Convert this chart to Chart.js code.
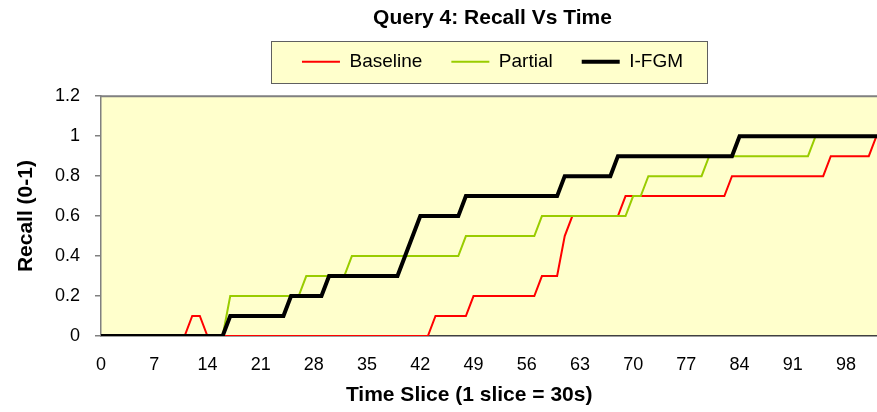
<!DOCTYPE html>
<html>
<head>
<meta charset="utf-8">
<title>Query 4: Recall Vs Time</title>
<script src="https://cdn.jsdelivr.net/npm/chart.js@4.4.0/dist/chart.umd.min.js"></script>
<style>
  html, body { margin: 0; padding: 0; overflow: hidden; background: #fff; }
  /* slightly wider than the window: the last slice sits just past the crop, as in the picture */
  #wrap { width: 884px; height: 412px; }
</style>
</head>
<body>
<div id="wrap"><canvas id="chart"></canvas></div>
<script>
'use strict';

// time slices 0..103
const timeSlices = Array.from({ length: 104 }, (_, i) => i);

const baseline = [
  0, 0, 0, 0, 0, 0, 0, 0, 0, 0,
  0, 0, 0.1, 0.1, 0, 0, 0, 0, 0, 0,
  0, 0, 0, 0, 0, 0, 0, 0, 0, 0,
  0, 0, 0, 0, 0, 0, 0, 0, 0, 0,
  0, 0, 0, 0, 0.1, 0.1, 0.1, 0.1, 0.1, 0.2,
  0.2, 0.2, 0.2, 0.2, 0.2, 0.2, 0.2, 0.2, 0.3, 0.3,
  0.3, 0.5, 0.6, 0.6, 0.6, 0.6, 0.6, 0.6, 0.6, 0.7,
  0.7, 0.7, 0.7, 0.7, 0.7, 0.7, 0.7, 0.7, 0.7, 0.7,
  0.7, 0.7, 0.7, 0.8, 0.8, 0.8, 0.8, 0.8, 0.8, 0.8,
  0.8, 0.8, 0.8, 0.8, 0.8, 0.8, 0.9, 0.9, 0.9, 0.9,
  0.9, 0.9, 1, 1
];

const partial = [
  0, 0, 0, 0, 0, 0, 0, 0, 0, 0,
  0, 0, 0, 0, 0, 0, 0, 0.2, 0.2, 0.2,
  0.2, 0.2, 0.2, 0.2, 0.2, 0.2, 0.2, 0.3, 0.3, 0.3,
  0.3, 0.3, 0.3, 0.4, 0.4, 0.4, 0.4, 0.4, 0.4, 0.4,
  0.4, 0.4, 0.4, 0.4, 0.4, 0.4, 0.4, 0.4, 0.5, 0.5,
  0.5, 0.5, 0.5, 0.5, 0.5, 0.5, 0.5, 0.5, 0.6, 0.6,
  0.6, 0.6, 0.6, 0.6, 0.6, 0.6, 0.6, 0.6, 0.6, 0.6,
  0.7, 0.7, 0.8, 0.8, 0.8, 0.8, 0.8, 0.8, 0.8, 0.8,
  0.9, 0.9, 0.9, 0.9, 0.9, 0.9, 0.9, 0.9, 0.9, 0.9,
  0.9, 0.9, 0.9, 0.9, 1, 1, 1, 1, 1, 1,
  1, 1, 1, 1
];

const ifgm = [
  0, 0, 0, 0, 0, 0, 0, 0, 0, 0,
  0, 0, 0, 0, 0, 0, 0, 0.1, 0.1, 0.1,
  0.1, 0.1, 0.1, 0.1, 0.1, 0.2, 0.2, 0.2, 0.2, 0.2,
  0.3, 0.3, 0.3, 0.3, 0.3, 0.3, 0.3, 0.3, 0.3, 0.3,
  0.4, 0.5, 0.6, 0.6, 0.6, 0.6, 0.6, 0.6, 0.7, 0.7,
  0.7, 0.7, 0.7, 0.7, 0.7, 0.7, 0.7, 0.7, 0.7, 0.7,
  0.7, 0.8, 0.8, 0.8, 0.8, 0.8, 0.8, 0.8, 0.9, 0.9,
  0.9, 0.9, 0.9, 0.9, 0.9, 0.9, 0.9, 0.9, 0.9, 0.9,
  0.9, 0.9, 0.9, 0.9, 1, 1, 1, 1, 1, 1,
  1, 1, 1, 1, 1, 1, 1, 1, 1, 1,
  1, 1, 1, 1
];

const xTickValues = [0, 7, 14, 21, 28, 35, 42, 49, 56, 63, 70, 77, 84, 91, 98];
const yTickValues = [0, 0.2, 0.4, 0.6, 0.8, 1, 1.2];

const FONT = "'Liberation Sans', Arial, sans-serif";
const PLOT_BG = '#FFFFCC';

function toPoints(values) {
  return timeSlices.map((t, i) => ({ x: t, y: values[i] }));
}

// yellow plot area, boxed legend, grey frame like the Excel original
const plotFrame = {
  id: 'plotFrame',
  beforeDraw(chart) {
    const { ctx, chartArea: a, legend } = chart;
    ctx.save();
    ctx.fillStyle = PLOT_BG;
    ctx.fillRect(a.left, a.top, a.right - a.left, a.bottom - a.top);

    const boxes = legend.legendHitBoxes || [];
    if (boxes.length) {
      const left = Math.min(...boxes.map(b => b.left)) - 31;
      const right = Math.max(...boxes.map(b => b.left + b.width)) + 24;
      const mid = boxes[0].top + boxes[0].height / 2;
      const top = Math.round(mid - 21) + 0.5;
      const bottom = Math.round(mid + 21) + 0.5;
      ctx.fillStyle = PLOT_BG;
      ctx.fillRect(left, top, right - left, bottom - top);
      ctx.strokeStyle = '#606060';
      ctx.lineWidth = 1;
      ctx.strokeRect(Math.round(left) + 0.5, top, Math.round(right - left), bottom - top);
    }
    ctx.restore();
  },
  beforeDatasetsDraw(chart) {
    const { ctx, chartArea: a } = chart;
    ctx.save();
    ctx.strokeStyle = '#808080';
    ctx.lineWidth = 2;
    ctx.beginPath();
    ctx.moveTo(a.left, a.top);
    ctx.lineTo(a.right, a.top);
    ctx.lineTo(a.right, a.bottom);
    ctx.stroke();
    ctx.restore();
  }
};

let canvasElem = document.getElementById('chart');

let data = {
  datasets: [
    { label: 'Baseline', data: toPoints(baseline), borderColor: '#FF0000', backgroundColor: '#FF0000', borderWidth: 2, order: 3 },
    { label: 'Partial', data: toPoints(partial), borderColor: '#99CC00', backgroundColor: '#99CC00', borderWidth: 2, order: 2 },
    { label: 'I-FGM', data: toPoints(ifgm), borderColor: '#000000', backgroundColor: '#000000', borderWidth: 4, order: 1 }
  ]
};

let options = {
  responsive: true,
  maintainAspectRatio: false,
  animation: false,
  devicePixelRatio: 1,
  layout: { padding: 0 },
  elements: {
    point: { radius: 0, hoverRadius: 0 },
    line: { tension: 0, fill: false }
  },
  plugins: {
    tooltip: { enabled: false },
    title: {
      display: true,
      text: 'Query 4: Recall Vs Time',
      fullSize: false,
      color: '#000',
      font: { family: FONT, size: 21, weight: 'bold', lineHeight: 1.2 },
      padding: { top: 6, bottom: -8 }
    },
    legend: {
      position: 'top',
      fullSize: false,
      labels: {
        usePointStyle: true,
        pointStyle: 'line',
        pointStyleWidth: 38,
        padding: 29,
        color: '#000',
        font: { family: FONT, size: 19 },
        sort: (a, b) => a.datasetIndex - b.datasetIndex
      }
    },
    // empty spacer between legend and plot
    subtitle: {
      display: true,
      text: '',
      weight: 500,
      fullSize: false,
      font: { size: 15, lineHeight: 1 },
      padding: 0
    }
  },
  scales: {
    x: {
      type: 'linear',
      min: 0,
      max: 103,
      afterBuildTicks: scale => { scale.ticks = xTickValues.map(v => ({ value: v })); },
      afterFit: scale => { scale.height = 76; },
      ticks: {
        autoSkip: false,
        maxRotation: 0,
        minRotation: 0,
        padding: 10,
        color: '#000',
        font: { family: FONT, size: 18 },
        callback: v => String(v)
      },
      grid: { display: false },
      border: { display: true, color: '#404040', width: 1.5 },
      title: {
        display: true,
        // trailing spaces pull the centred title left, as in the original
        text: 'Time Slice (1 slice = 30s)' + '\u00A0'.repeat(8),
        color: '#000',
        font: { family: FONT, size: 21, weight: 'bold', lineHeight: 1.2 },
        padding: { top: 0, bottom: 4 }
      }
    },
    y: {
      min: 0,
      max: 1.2,
      afterBuildTicks: scale => { scale.ticks = yTickValues.map(v => ({ value: v })); },
      afterFit: scale => { scale.width = 101; },
      ticks: {
        padding: 15,
        color: '#000',
        font: { family: FONT, size: 18 },
        callback: v => String(Math.round(v * 10) / 10)
      },
      grid: { drawOnChartArea: false, drawTicks: true, tickLength: 6, color: '#808080', lineWidth: 1.5 },
      border: { display: true, color: '#808080', width: 1.5 },
      title: {
        display: true,
        text: 'Recall (0-1)',
        color: '#000',
        font: { family: FONT, size: 21, weight: 'bold', lineHeight: 1.2 },
        padding: { top: 14, bottom: 0 }
      }
    }
  }
};

let ctx = canvasElem.getContext('2d');
new Chart(ctx, {
  type: 'line',
  data: data,
  options: options,
  plugins: [plotFrame]
});
</script>
</body>
</html>
